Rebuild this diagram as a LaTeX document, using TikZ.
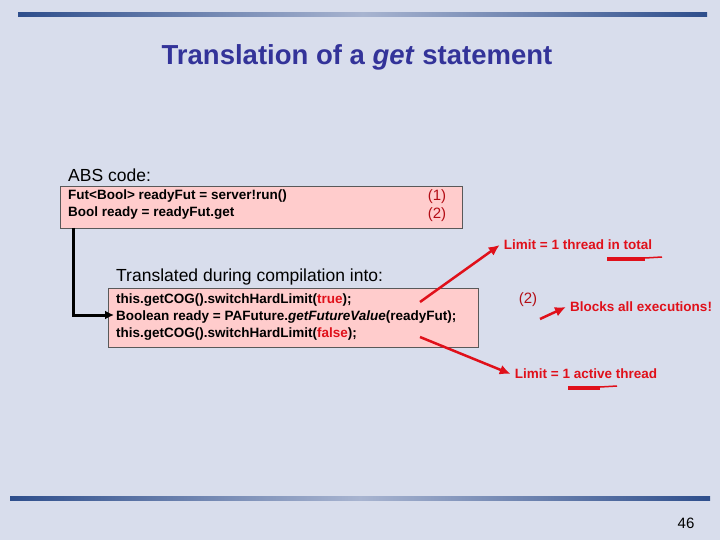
\documentclass[tikz,border=0pt]{standalone}
\usepackage{fontspec}
\setmainfont{Liberation Sans}
\usetikzlibrary{arrows.meta}
\definecolor{bg}{HTML}{D8DDEC}
\definecolor{pinkbox}{HTML}{FFCCCC}
\definecolor{titleblue}{HTML}{333399}
\definecolor{barA}{HTML}{2E4E8C}
\definecolor{barB}{HTML}{A8B4D0}
\definecolor{redc}{HTML}{E0101A}
\begin{document}
\begin{tikzpicture}[x=1pt,y=-1pt,
  codebox/.style={draw=gray!70!black,fill=pinkbox,line width=0.8pt},
  code/.style={font=\fontsize{13.5}{17}\selectfont\bfseries,anchor=north west,align=left,inner sep=0},
  lbl/.style={font=\fontsize{17.5}{20}\selectfont,anchor=west,inner sep=0},
  rlbl/.style={font=\fontsize{13.5}{16}\selectfont\bfseries,text=redc,inner sep=0},
  num/.style={font=\fontsize{15}{17}\selectfont,text=redc!80!black,inner sep=0},
  redarrow/.style={draw=redc,line width=2.5pt,-{Latex[length=11pt,width=10pt]}},
  redmark/.style={draw=redc,line width=3.5pt}]
\fill[bg] (0,0) rectangle (720,540);
\useasboundingbox (0,0) rectangle (720,540);
\shade[left color=barA,right color=barA,middle color=barB] (18,13) rectangle (707,17);
\shade[left color=barA,right color=barA,middle color=barB] (10,496) rectangle (710,500);
\node[font=\fontsize{27.5}{30}\selectfont\bfseries,text=titleblue] (title) at (357,57) {Translation of a \textit{get} statement};
\node[lbl] (abs) at (68,175) {ABS code:};
\draw[codebox] (60,186) rectangle (462,228);
\node[code] (c1) at (68,190) {Fut<Bool> readyFut = server!run()\\Bool ready = readyFut.get};
\node[num] (n1) at (437,197) {(1)};
\node[num] (n2) at (437,215) {(2)};
\node[lbl] (tr) at (116,277) {Translated during compilation into:};
\draw[codebox] (108,288) rectangle (478,347);
\node[code] (c2) at (116,294) {this.getCOG().switchHardLimit(\textcolor{redc}{true});\\Boolean ready = PAFuture.\textit{getFutureValue}(readyFut);\\this.getCOG().switchHardLimit(\textcolor{redc}{false});};
\coordinate (a0) at (73,228);
\coordinate (a1) at (73,315);
\coordinate (a2) at (114,315);
\draw[line width=3pt,-{Latex[length=9pt,width=9pt]}] (a0) -- (a1) -- (a2);
\node[num] (n3) at (528,300) {(2)};
\node[rlbl] (l1) at (578,245) {Limit = 1 thread in total};
\node[rlbl,anchor=west] (l2) at (570,307) {Blocks all executions!};
\node[rlbl] (l3) at (586,374) {Limit = 1 active thread};
\coordinate (s1) at (420,302);
\coordinate (s2) at (540,319);
\coordinate (s3) at (420,337);
\draw[redarrow] (s1) -- ([xshift=-4pt]l1.west);
\draw[redarrow] (s2) -- ([xshift=-4pt]l2.west);
\draw[redarrow] (s3) -- ([xshift=-4pt]l3.west);
\draw[redmark] (607,259) -- (645,259); \draw[redc,line width=1.5pt] (645,258) -- (662,257);
\draw[redmark] (568,388) -- (600,388); \draw[redc,line width=1.5pt] (600,387) -- (617,386);
\node[font=\fontsize{15}{17}\selectfont] (pg) at (686,523) {46};
\end{tikzpicture}
\end{document}
